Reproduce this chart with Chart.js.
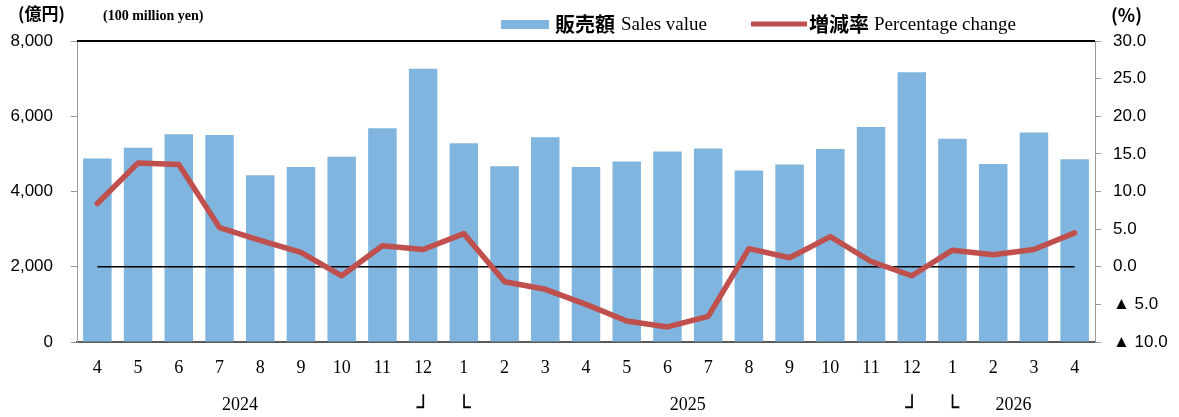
<!DOCTYPE html>
<html>
<head>
<meta charset="utf-8">
<script src="https://cdn.jsdelivr.net/npm/chart.js@4.4.1/dist/chart.umd.min.js"></script>
<style>
html, body { margin: 0; padding: 0; background: #fff; }
#wrap { width: 1179px; height: 417px; }
</style>
</head>
<body>
<div id="wrap"><canvas id="g1"></canvas></div>
<script>
// months on the x axis (Apr 2024 - Apr 2026)
var bulan = ['4','5','6','7','8','9','10','11','12','1','2','3','4','5','6','7','8','9','10','11','12','1','2','3','4'];

// sales value (100 million yen)
var penjualan = [4880, 5165, 5520, 5500, 4435, 4650, 4925, 5680, 7265, 5285, 4670, 5445,
                 4650, 4795, 5060, 5145, 4555, 4715, 5130, 5715, 7170, 5405, 4730, 5565, 4860];

// percentage change (%)
var perubahan = [8.4, 13.8, 13.6, 5.2, 3.5, 1.9, -1.2, 2.8, 2.3, 4.4, -2.0, -3.0,
                 -5.0, -7.2, -8.0, -6.6, 2.4, 1.2, 4.0, 0.7, -1.2, 2.2, 1.6, 2.3, 4.5];

// second row under the months
var tahun = ['2024', '2025', '2026'];
var tahunSetelah = [3, 14, 22];      // year sits between this month and the next one
var kurung = ['┘', '└', '┘', '└'];
var kurungIdx = [8, 9, 20, 21];

var biru = '#7FB5DE';
var merah = '#C0504D';

// extra drawing: zero line, top frame, units, legend, year row
var ekstra = {
    id: 'ekstra',
    beforeDatasetDraw: function(chart, args) {
        if (args.index !== 1) return;
        var x = chart.scales.x, yR = chart.scales.yR, c = chart.ctx;
        var y0 = yR.getPixelForValue(0);
        c.save();
        c.strokeStyle = '#000';
        c.lineWidth = 1.5;
        c.beginPath();
        c.moveTo(x.getPixelForValue(0), y0);
        c.lineTo(x.getPixelForValue(bulan.length - 1), y0);
        c.stroke();
        c.restore();
    },
    afterDraw: function(chart) {
        var c = chart.ctx, a = chart.chartArea, x = chart.scales.x;
        c.save();

        // top frame
        c.strokeStyle = '#000';
        c.lineWidth = 2;
        c.beginPath();
        c.moveTo(a.left, a.top);
        c.lineTo(a.right, a.top);
        c.stroke();

        // units
        c.fillStyle = '#000';
        c.textBaseline = 'middle';
        c.textAlign = 'left';
        c.font = 'bold 17px "Noto Sans CJK JP"';
        c.fillText('(億円)', 18, 14);
        c.font = 'bold 14px "Liberation Serif"';
        c.fillText('(100 million yen)', 103, 16);
        c.font = 'bold 18px "Noto Sans CJK JP"';
        c.fillText('(%)', 1111, 15);

        // legend
        var ds = chart.data.datasets;
        c.fillStyle = ds[0].backgroundColor;
        c.fillRect(501, 20, 48, 9);
        c.fillStyle = '#000';
        var jp = ds[0].label.split(' ')[0], en = ds[0].label.substring(jp.length + 1);
        c.font = 'bold 20px "Noto Sans CJK JP"';
        c.fillText(jp, 555, 24);
        var w = c.measureText(jp).width;
        c.font = '19px "Liberation Serif"';
        c.fillText(en, 555 + w + 6, 25);

        c.strokeStyle = ds[1].borderColor;
        c.lineWidth = 5;
        c.beginPath();
        c.moveTo(751, 24);
        c.lineTo(807, 24);
        c.stroke();
        jp = ds[1].label.split(' ')[0];
        en = ds[1].label.substring(jp.length + 1);
        c.font = 'bold 20px "Noto Sans CJK JP"';
        c.fillText(jp, 809, 24);
        w = c.measureText(jp).width;
        c.font = '19px "Liberation Serif"';
        c.fillText(en, 809 + w + 5, 25);

        // year row
        c.textAlign = 'center';
        c.font = '18px "Liberation Serif"';
        for (var i = 0; i < tahun.length; i++) {
            var px = (x.getPixelForValue(tahunSetelah[i]) + x.getPixelForValue(tahunSetelah[i] + 1)) / 2;
            c.fillText(tahun[i], px, 405);
        }
        c.textBaseline = 'alphabetic';
        c.font = '22px "DejaVu Sans"';
        for (var k = 0; k < kurung.length; k++) {
            c.fillText(kurung[k], x.getPixelForValue(kurungIdx[k]), 415);
        }
        c.restore();
    }
};

var ctx = document.getElementById('g1');

var myChart = new Chart(ctx, {
    type: 'bar',
    data: {
        labels: bulan,
        datasets: [{
            label: '販売額 Sales value',
            data: penjualan,
            backgroundColor: biru,
            borderWidth: 0,
            categoryPercentage: 1,
            barPercentage: 0.7,
            yAxisID: 'y',
            order: 2
        }, {
            type: 'line',
            label: '増減率 Percentage change',
            data: perubahan,
            borderColor: merah,
            backgroundColor: merah,
            borderWidth: 5.5,
            pointRadius: 0,
            tension: 0,
            borderJoinStyle: 'round',
            borderCapStyle: 'round',
            yAxisID: 'yR',
            order: 1
        }]
    },
    options: {
        responsive: true,
        maintainAspectRatio: false,
        animation: false,
        layout: { padding: { top: 41, left: 0, right: 0, bottom: 0 } },
        plugins: {
            legend: { display: false },
            tooltip: { enabled: false }
        },
        scales: {
            x: {
                grid: { display: false, drawTicks: false },
                border: { color: '#595959', width: 2 },
                ticks: {
                    color: '#000',
                    font: { family: 'Liberation Serif', size: 18 },
                    padding: 15,
                    maxRotation: 0,
                    autoSkip: false
                },
                afterFit: function(s) { s.height = 75; }
            },
            y: {
                position: 'left',
                min: 0,
                max: 8000,
                ticks: {
                    stepSize: 2000,
                    color: '#000',
                    font: { family: 'Liberation Sans', size: 17 },
                    padding: 18,
                    callback: function(v) { return v.toLocaleString('en-US'); }
                },
                grid: { drawOnChartArea: false, drawTicks: true, tickLength: 6, color: '#999' },
                border: { color: '#999', width: 1 },
                afterFit: function(s) { s.width = 77; }
            },
            yR: {
                position: 'right',
                min: -10,
                max: 30,
                ticks: {
                    stepSize: 5,
                    color: '#000',
                    font: { family: 'Liberation Sans', size: 17 },
                    padding: 12,
                    callback: function(v) {
                        return v < 0 ? '▲ ' + Math.abs(v).toFixed(1) : v.toFixed(1);
                    }
                },
                grid: { drawOnChartArea: false, drawTicks: true, tickLength: 6, color: '#999' },
                border: { color: '#999', width: 1 },
                afterFit: function(s) { s.width = 84; }
            }
        }
    },
    plugins: [ekstra]
});
</script>
</body>
</html>
